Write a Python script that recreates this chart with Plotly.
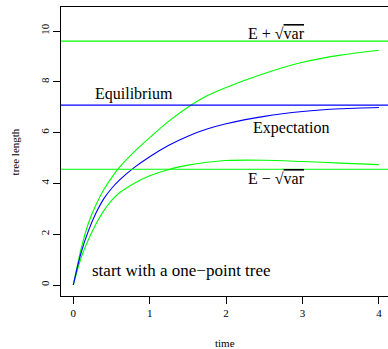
import plotly.graph_objects as go

# ---- data ----
time = [0, 0.1, 0.2, 0.3, 0.4, 0.5, 0.6, 0.8, 1.0, 1.25, 1.5, 1.75, 2.0, 2.5, 3.0, 3.5, 4.0]
expectation = [0, 1.25, 2.15, 2.85, 3.40, 3.80, 4.12, 4.63, 5.05, 5.50, 5.86, 6.14, 6.35, 6.64, 6.83, 6.94, 6.99]
upper = [0, 1.40, 2.45, 3.18, 3.76, 4.22, 4.62, 5.25, 5.80, 6.45, 7.00, 7.45, 7.78, 8.33, 8.77, 9.05, 9.24]
lower = [0, 1.05, 1.80, 2.42, 2.93, 3.32, 3.62, 4.01, 4.30, 4.55, 4.72, 4.83, 4.90, 4.91, 4.86, 4.80, 4.74]

equilibrium = 7.08
eq_plus_sd = 9.60
eq_minus_sd = 4.56

x_ticks = [0, 1, 2, 3, 4]
y_ticks = [0, 2, 4, 6, 8, 10]

GREEN = "#00ff00"
BLUE = "#0000ff"
FONT = "Liberation Serif"

fig = go.Figure()
for ys, col in [(upper, GREEN), (lower, GREEN), (expectation, BLUE)]:
    fig.add_trace(go.Scatter(x=time, y=ys, mode="lines",
                             line=dict(color=col, width=1.1, shape="spline", smoothing=0.8),
                             hoverinfo="skip", showlegend=False))

for yv, col in [(eq_plus_sd, GREEN), (equilibrium, BLUE), (eq_minus_sd, GREEN)]:
    fig.add_hline(y=yv, line=dict(color=col, width=1.1))

ann_font = dict(family=FONT, size=16, color="black")
overline = "<span style='text-decoration:overline'>var</span>"
labels = [
    (2.66, 9.92, "E + √" + overline, 16),
    (0.795, 7.52, "Equilibrium", 16),
    (2.85, 6.18, "Expectation", 16),
    (2.66, 4.21, "E − √" + overline, 16),
    (1.41, 0.59, "start with a one−point tree", 17),
]
for x, y, txt, sz in labels:
    fig.add_annotation(x=x, y=y, text=txt, showarrow=False,
                       font=dict(family=FONT, size=sz, color="black"),
                       xanchor="center", yanchor="middle")

fig.add_annotation(x=0.5, y=-0.163, xref="paper", yref="paper", text="time",
                   showarrow=False, font=dict(family=FONT, size=11, color="black"),
                   xanchor="center", yanchor="middle")
fig.add_annotation(x=-0.141, y=0.5, xref="paper", yref="paper", text="tree length",
                   textangle=-90, showarrow=False,
                   font=dict(family=FONT, size=11, color="black"),
                   xanchor="center", yanchor="middle")

fig.update_layout(
    width=388, height=349,
    margin=dict(l=61, r=0, t=7, b=53),
    paper_bgcolor="white", plot_bgcolor="white",
    font=dict(family=FONT, size=11, color="black"),
    xaxis=dict(range=[-0.161, 4.119], tickvals=x_ticks, ticks="outside", ticklen=7,
               tickcolor="black", showline=True, linecolor="black", linewidth=1,
               mirror=True, showgrid=False, zeroline=False, automargin=False,
               tickfont=dict(family=FONT, size=11)),
    yaxis=dict(range=[-0.433, 10.945], tickvals=y_ticks, ticks="outside", ticklen=7,
               tickcolor="black", showline=True, linecolor="black", linewidth=1,
               mirror=False, showgrid=False, zeroline=False, tickangle=-90,
               automargin=False, tickfont=dict(family=FONT, size=11)),
)

fig.write_html("out.html", config={"displayModeBar": False},
               post_script="document.body.style.margin='0';document.body.style.overflow='hidden';")
